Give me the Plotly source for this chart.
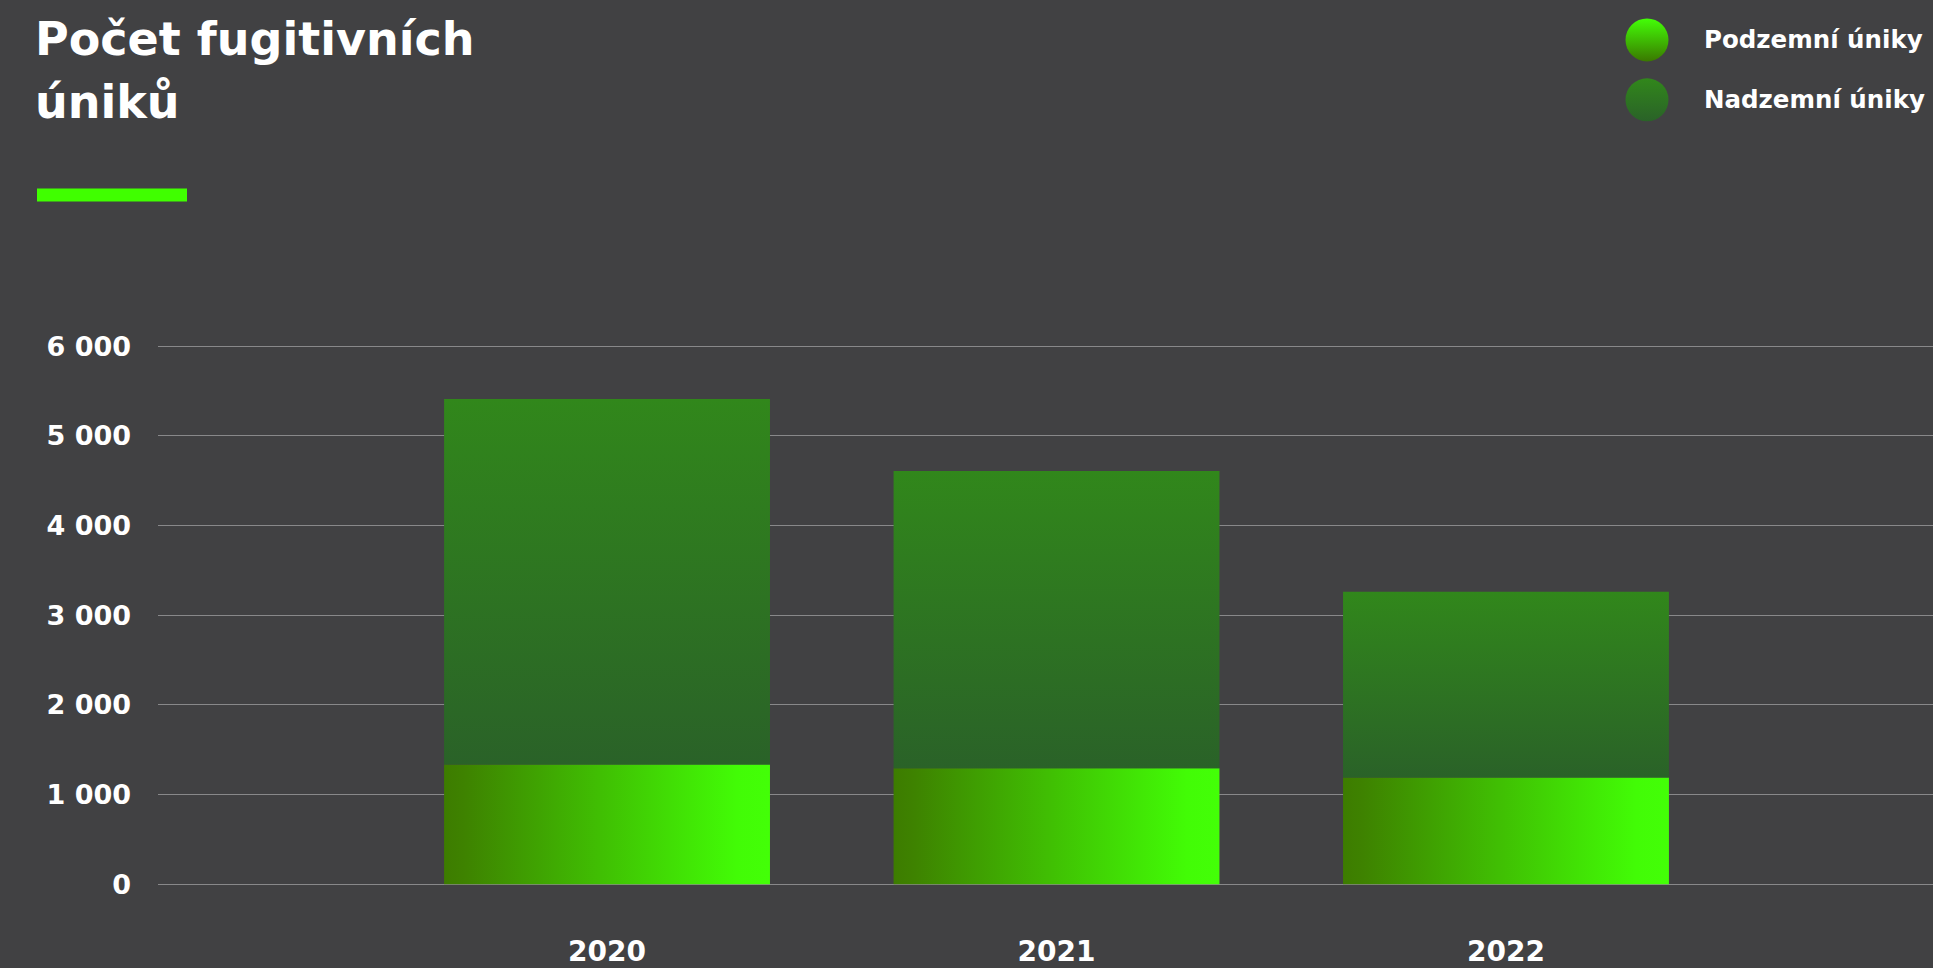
import plotly.graph_objects as go

# ── Data ──────────────────────────────────────────────────────
YEARS      = ["2020", "2021", "2022"]
PODZEMNI   = [1336, 1292, 1191]     # underground leaks
NADZEMNI   = [4076, 3318, 2072]     # above-ground leaks
Y_TICKS    = [0, 1000, 2000, 3000, 4000, 5000, 6000]
SERIES     = ["Podzemní úniky", "Nadzemní úniky"]
TITLE      = ["Počet fugitivních", "úniků"]

# ── Style ─────────────────────────────────────────────────────
W, H      = 1933, 968
BG        = "#414143"
CLEAR     = "rgba(0,0,0,0)"
GRID      = "#88888a"
FONT_FAM  = "DejaVu Sans, Open Sans, sans-serif"
BAR_W     = 0.725
UNDER_CS  = [[0, "#3d7c00"], [0.06, "#3e8200"], [0.9, "#42fc06"], [1, "#43ff07"]]
ABOVE_CS  = [[0, "#2a6228"], [1, "#31871b"]]


def px_x(x):
    return x / W


def px_y(y):
    return 1 - y / H


def bar_poly(i, base, top):
    xs = [i - BAR_W / 2, i + BAR_W / 2, i + BAR_W / 2, i - BAR_W / 2, i - BAR_W / 2]
    ys = [base, base, top, top, base]
    return xs, ys


fig = go.Figure()

for i, year in enumerate(YEARS):
    # underground part (horizontal gradient)
    xs, ys = bar_poly(i, 0, PODZEMNI[i])
    fig.add_trace(go.Scatter(
        x=xs, y=ys, mode="lines", fill="toself",
        line=dict(width=0), fillgradient=dict(type="horizontal", colorscale=UNDER_CS),
        showlegend=False, hoverinfo="skip",
    ))
    # above-ground part stacked on top (vertical gradient)
    xs, ys = bar_poly(i, PODZEMNI[i], PODZEMNI[i] + NADZEMNI[i])
    fig.add_trace(go.Scatter(
        x=xs, y=ys, mode="lines", fill="toself",
        line=dict(width=0), fillgradient=dict(type="vertical", colorscale=ABOVE_CS),
        showlegend=False, hoverinfo="skip",
    ))

# custom legend (big gradient circles) on an overlay pixel axis
legend_cols = [("#43ff07", "#3a7800"), ("#31871b", "#2a6228")]
for k, name in enumerate(SERIES):
    top_c, bot_c = legend_cols[k]
    fig.add_trace(go.Scatter(
        x=[1647], y=[40 + k * 60], xaxis="x2", yaxis="y2",
        mode="markers",
        marker=dict(size=43, color=top_c, line=dict(width=0),
                    gradient=dict(type="vertical", color=bot_c)),
        showlegend=False, hoverinfo="skip",
    ))
    fig.add_annotation(
        text=f"<b>{name}</b>", xref="paper", yref="paper",
        x=px_x(1702), y=px_y(40 + k * 60), xanchor="left", yanchor="middle",
        showarrow=False, font=dict(family=FONT_FAM, size=24.5, color="white"),
    )

# title, one annotation per line to get the wider line spacing
for k, line in enumerate(TITLE):
    fig.add_annotation(
        text=f"<b>{line}</b>", xref="paper", yref="paper",
        x=px_x(33), y=px_y(10 + k * 63), xanchor="left", yanchor="top", align="left",
        showarrow=False, font=dict(family=FONT_FAM, size=46, color="white"),
    )

fig.add_shape(type="rect", xref="paper", yref="paper",
              x0=px_x(37), x1=px_x(187), y0=px_y(202), y1=px_y(189),
              fillcolor="#40ff00", line=dict(width=0))

fig.update_layout(
    width=W, height=H,
    paper_bgcolor=BG, plot_bgcolor=CLEAR,
    font=dict(family=FONT_FAM, color="white", size=26),
    margin=dict(l=0, r=0, t=0, b=0),
    showlegend=False,
    xaxis=dict(domain=[px_x(158), 1], range=[-0.999, 2.95],
               tickvals=list(range(len(YEARS))), ticktext=[f"<b>{y}</b>" for y in YEARS],
               showgrid=False, zeroline=False, showline=False, ticks="",
               ticklabelstandoff=26, tickfont=dict(size=28, color="white")),
    yaxis=dict(domain=[px_y(908), px_y(300)], range=[-245, 6523],
               tickvals=Y_TICKS, ticktext=[f"<b>{v:,}</b>".replace(",", " ") for v in Y_TICKS],
               showgrid=True, gridcolor=GRID, gridwidth=1, zeroline=False,
               showline=False, ticks="", ticklabelstandoff=26,
               tickfont=dict(size=27, color="white")),
    xaxis2=dict(domain=[0, 1], range=[0, W], visible=False, anchor="y2"),
    yaxis2=dict(domain=[0, 1], range=[H, 0], visible=False, anchor="x2"),
)

fig.write_html("out.html", config={"displayModeBar": False},
               post_script="document.body.style.margin='0';")
